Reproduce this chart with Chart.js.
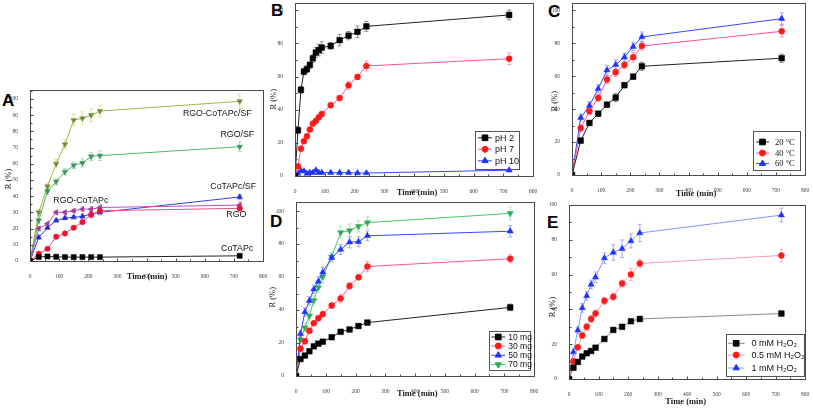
<!DOCTYPE html>
<html><head><meta charset="utf-8">
<script src="https://cdn.jsdelivr.net/npm/chart.js@4.4.1/dist/chart.umd.min.js"></script>
<style>
html,body{margin:0;padding:0;background:#fff;width:813px;height:408px;overflow:hidden;position:relative}
canvas{position:absolute}
.lt{position:absolute;font:bold 17px "Liberation Sans",Arial,sans-serif;line-height:17px;color:#000}
</style></head><body>
<div class="lt" style="left:2px;top:91.6px">A</div>
<div class="lt" style="left:271px;top:1.6px">B</div>
<div class="lt" style="left:548px;top:2.6px">C</div>
<div class="lt" style="left:270px;top:212.6px">D</div>
<div class="lt" style="left:547px;top:213.6px">E</div>
<script>
// ---------- shared ticks ----------
const xTicks = [0, 100, 200, 300, 400, 500, 600, 700, 800];
const yTicksA = [0, 10, 20, 30, 40, 50, 60, 70, 80, 90, 100];
const yTicks20 = [0, 20, 40, 60, 80, 100];

// ---------- Panel A ----------
const timeA = [0, 30, 60, 90, 120, 150, 180, 210, 240, 720];
const aRgoCoSF = [0, 30, 46, 60, 72, 87, 88, 90, 92.5, 98.5];
const aRgoSF   = [0, 25, 43, 49, 55, 59, 60.5, 64.5, 65, 70.5];
const aCoSF    = [0, 14.5, 20.5, 25, 26.5, 27, 27.5, 29, 30, 39.5];
const aRgoCo   = [0, 20, 23, 30, 30, 31, 32, 32, 33, 34.5];
const aRgo     = [0, 4.5, 7.5, 15, 17, 20.5, 24, 28.5, 31, 32.5];
const aCo      = [0, 2.5, 2.8, 2.6, 2.4, 2.4, 2.4, 2.4, 2.4, 3.2];
const errARgoCoSF = [0, 2, 2, 2.5, 3, 3.5, 4, 4, 3.5, 4.5];
const errARgoSF   = [0, 2, 2, 2, 2, 2, 2.5, 2.5, 3, 3];
const errACoSF    = [0, 1, 1, 1, 1, 1, 1.5, 1.5, 1.5, 1.5];
const errARgoCo   = [0, 1, 1, 1, 1, 1, 1.5, 1.5, 2, 2];
const errARgo     = [0, 1, 1, 1, 1, 1, 1.5, 2, 2, 2];
const errACo      = [0, 0.5, 0.5, 0.5, 0.5, 0.5, 0.5, 0.5, 0.5, 0.5];

// ---------- Panel B ----------
const timeB = [0, 10, 20, 30, 40, 50, 60, 70, 80, 90, 120, 150, 180, 210, 240, 720];
const bPH2  = [0, 27.6, 52, 63, 64.5, 67, 71, 74.5, 76, 77.5, 78.5, 82, 84.7, 87, 90.3, 97.2];
const bPH7  = [0, 5.8, 16.5, 21, 24, 28, 31.6, 33.2, 35.4, 37.4, 42.7, 47, 54.7, 59.8, 66.4, 70.8];
const bPH10 = [0, 1.5, 3, 3, 1.5, 2, 2, 3.5, 2, 2, 2, 2, 2, 1.8, 1.8, 3.5];
const errBPH2  = [0, 2, 2, 2, 2, 2, 2.5, 3, 3.5, 3.5, 2, 3.5, 2.5, 3.5, 3, 3];
const errBPH7  = [0, 1, 1, 1, 1, 1, 1, 1, 1, 1, 1.5, 1.5, 2.5, 1.5, 3, 3.5];
const errBPH10 = [0, 0.5, 0.5, 0.5, 0.5, 0.5, 0.5, 0.5, 0.5, 0.5, 0.5, 0.5, 0.5, 0.5, 0.5, 0.5];

// ---------- Panel C ----------
const timeC = [0, 30, 60, 90, 120, 150, 180, 210, 240, 720];
const c20 = [0, 20.9, 31.6, 37.2, 42.7, 47, 54.5, 59.7, 66, 70.9];
const c40 = [0, 28.5, 38.7, 46.8, 57.9, 62.3, 66.8, 71.5, 78.3, 87.2];
const c60 = [0, 34.8, 42.1, 52.4, 63.6, 67, 71.5, 77.9, 83.8, 94.9];
const errC20 = [0, 1.5, 1.5, 1.5, 1.5, 2.5, 1.5, 1.5, 2.5, 2.5];
const errC40 = [0, 2, 2, 2, 2.5, 2.5, 2, 3, 2.5, 3.5];
const errC60 = [0, 2, 2.5, 2.5, 3, 3, 2.5, 2.5, 3, 3.5];

// ---------- Panel D ----------
const timeD = [0, 15, 30, 45, 60, 75, 90, 120, 150, 180, 210, 240, 720];
const d10 = [0, 10.3, 12.4, 15, 18, 19.6, 20.8, 23.5, 26.8, 28.2, 30.3, 32.4, 41.6];
const d30 = [0, 16.5, 21, 27.4, 32, 35, 37.5, 42.7, 47, 54.6, 59.8, 66.4, 71.1];
const d50 = [0, 25.6, 38.8, 45.6, 52.6, 57.3, 62.9, 71.8, 76.7, 81.2, 81.4, 85, 87.8];
const d70 = [0, 22, 29.3, 36.5, 45.8, 53.6, 60.2, 72.2, 87, 88.2, 90.7, 93, 98.6];
const errD10 = [0, 1, 1, 1, 1, 1, 1, 1, 1, 1, 1, 1, 2];
const errD30 = [0, 1.5, 1.5, 1.5, 1.5, 1.5, 1.5, 1.5, 2.5, 2, 1.5, 3, 2.5];
const errD50 = [0, 2, 2.5, 2.5, 2.5, 3, 3, 2.5, 3, 3.5, 3, 3, 3.5];
const errD70 = [0, 2.5, 2.5, 3, 3, 3, 3.5, 3, 3.5, 4, 3.5, 3.5, 4];

// ---------- Panel E ----------
const timeE = [0, 15, 30, 45, 60, 75, 90, 120, 150, 180, 210, 240, 720];
const e0  = [0, 6.5, 9.8, 12.9, 14.8, 16.1, 18, 23, 28.2, 30, 33.2, 34.5, 37.6];
const e05 = [0, 10.2, 18.2, 25, 30, 34.5, 37.6, 44.9, 47.2, 54.9, 60.1, 66.4, 71];
const e1  = [0, 15.5, 28, 40.9, 47.8, 54.3, 58.5, 69.5, 72.7, 74.9, 79.3, 83.9, 94.2];
const errE0  = [0, 0.8, 0.8, 0.8, 0.8, 0.8, 0.8, 1, 1, 1, 1, 1.5, 1.5];
const errE05 = [0, 1.5, 1.5, 1.5, 2, 2, 2, 2, 2, 2, 3.5, 2.5, 3.5];
const errE1  = [0, 2, 2, 2.5, 2.5, 2.5, 3, 3, 4.5, 5, 4, 5, 4];

// ---------- helpers ----------
function ser(label, t, v, err, st) {
  return {
    label, data: t.map((x, i) => ({x, y: v[i]})), errors: err,
    borderColor: st.line, backgroundColor: st.mark, pointBackgroundColor: st.mark,
    pointBorderColor: st.mark, pointStyle: st.shape, pointRotation: st.rot || 0,
    pointRadius: st.r, pointBorderWidth: 0.5, borderWidth: st.lw || 1, errColor: st.err,
    showLine: true, tension: 0, fill: false
  };
}
const BLK = {line:'#222', mark:'#000', err:'#777', shape:'rect', r:4};
const RED = {line:'#ff4f9a', mark:'#ff1a1a', err:'#f08ab0', shape:'circle', r:3};
const BLU = {line:'#3348ff', mark:'#1f33ff', err:'#8894f0', shape:'triangle', r:3.6};
const GRN = {line:'#4cc76a', mark:'#2fae52', err:'#a8e0b0', shape:'triangle', rot:180, r:3.6};

const decor = {
  id: 'decor',
  beforeDatasetsDraw(chart) {
    const ctx = chart.ctx, ys = chart.scales.y;
    chart.data.datasets.forEach((ds, i) => {
      if (!ds.errors) return;
      const meta = chart.getDatasetMeta(i);
      ctx.save(); ctx.strokeStyle = ds.errColor || ds.borderColor; ctx.lineWidth = 0.8;
      meta.data.forEach((pt, j) => {
        const e = ds.errors[j]; if (!e) return;
        const v = ds.data[j].y;
        const y1 = ys.getPixelForValue(v + e), y2 = ys.getPixelForValue(v - e);
        ctx.beginPath();
        ctx.moveTo(pt.x, y1); ctx.lineTo(pt.x, y2);
        ctx.moveTo(pt.x - 2, y1); ctx.lineTo(pt.x + 2, y1);
        ctx.moveTo(pt.x - 2, y2); ctx.lineTo(pt.x + 2, y2);
        ctx.stroke();
      });
      ctx.restore();
    });
  },
  afterDraw(chart, args, o) {
    const {ctx, chartArea: ca, scales: {x, y}} = chart;
    const ox = o.ox, oy = o.oy;
    ctx.save();
    // frame
    ctx.strokeStyle = '#4a4a4a'; ctx.lineWidth = 1;
    const L = Math.round(ca.left) + 0.5, T = Math.round(ca.top) + 0.5;
    const R = Math.round(ca.right) + 0.5, B = Math.round(ca.bottom) + 0.5;
    ctx.strokeRect(L, T, R - L, B - T);
    // inward ticks
    ctx.beginPath();
    for (let v = 0; v <= 800; v += 50) {
      const px = Math.round(x.getPixelForValue(v)) + 0.5;
      const len = v % 100 === 0 ? 3 : 2;
      ctx.moveTo(px, B); ctx.lineTo(px, B - len);
    }
    const yt = o.yTicks, st = yt[1] - yt[0];
    for (let v = 0; v <= y.max + 0.001; v += st / 2) {
      const py = Math.round(y.getPixelForValue(v)) + 0.5;
      const len = Math.abs(v / st - Math.round(v / st)) < 1e-6 ? 3 : 2;
      ctx.moveTo(L, py); ctx.lineTo(L + len, py);
    }
    ctx.stroke();
    // axis titles
    ctx.fillStyle = '#222'; ctx.textAlign = 'center'; ctx.textBaseline = 'middle';
    ctx.font = 'bold 8.5px "Liberation Serif", serif';
    ctx.fillText('Time (min)', o.xt[0] - ox, o.xt[1] - oy);
    ctx.save(); ctx.translate(o.yt[0] - ox, o.yt[1] - oy); ctx.rotate(-Math.PI / 2);
    ctx.font = '8.5px "Liberation Serif", serif'; ctx.fillText('R (%)', 0, 0); ctx.restore();
    // legend
    if (o.legend) {
      const lg = o.legend;
      ctx.strokeStyle = '#555'; ctx.lineWidth = 1;
      ctx.strokeRect(Math.round(lg.box[0] - ox) + 0.5, Math.round(lg.box[1] - oy) + 0.5,
                     Math.round(lg.box[2] - lg.box[0]), Math.round(lg.box[3] - lg.box[1]));
      ctx.font = lg.font; ctx.textAlign = 'left'; ctx.textBaseline = 'middle';
      chart.data.datasets.forEach((ds, i) => {
        const ry = lg.rows[i] - oy;
        ctx.strokeStyle = ds.borderColor; ctx.lineWidth = 1;
        ctx.beginPath(); ctx.moveTo(lg.line[0] - ox, ry); ctx.lineTo(lg.line[1] - ox, ry); ctx.stroke();
        ctx.fillStyle = ds.pointBackgroundColor; ctx.strokeStyle = ds.pointBorderColor;
        Chart.helpers.drawPoint(ctx, {pointStyle: ds.pointStyle, rotation: ds.pointRotation,
          radius: ds.pointRadius, borderWidth: 0.5}, (lg.line[0] + lg.line[1]) / 2 - ox, ry);
        ctx.fillStyle = '#111';
        ctx.fillText(ds.label, lg.text - ox, ry + 0.5);
      });
    }
    // annotations
    if (o.notes) {
      ctx.fillStyle = '#111'; ctx.textAlign = 'left'; ctx.textBaseline = 'middle';
      ctx.font = '8.8px "Liberation Sans", Arial, sans-serif';
      o.notes.forEach(n => ctx.fillText(n.text, x.getPixelForValue(n.x), y.getPixelForValue(n.y)));
    }
    ctx.restore();
  }
};

function makePanel(p) {
  const [L, T, R, B] = p.area;
  const padL = 45, padR = 10, padT = 10, padB = 30;
  const cv = document.createElement('canvas');
  const cx = L - padL, cy = T - padT;
  const w = Math.round(R - L + padL + padR), h = Math.round(B - T + padT + padB);
  cv.width = w; cv.height = h;
  cv.style.left = cx + 'px'; cv.style.top = cy + 'px';
  cv.style.width = w + 'px'; cv.style.height = h + 'px';
  document.body.appendChild(cv);
  const tickFont = {family: '"Liberation Serif", serif', size: 5.5};
  new Chart(cv, {
    type: 'line',
    data: {datasets: p.datasets},
    options: {
      responsive: false, animation: false, devicePixelRatio: 1,
      layout: {padding: {left: 0, top: padT, right: padR, bottom: 0}},
      plugins: {legend: {display: false}, tooltip: {enabled: false},
        decor: {ox: cx, oy: cy, xt: p.xt, yt: p.yt, legend: p.legend, notes: p.notes, yTicks: p.yTicks}},
      scales: {
        x: {type: 'linear', min: 0, max: 800,
          afterBuildTicks: s => { s.ticks = xTicks.map(v => ({value: v})); },
          ticks: {font: tickFont, color: '#444', padding: 4, maxRotation: 0, autoSkip: false},
          grid: {display: false}, border: {display: false},
          afterFit: s => { s.height = padB; s.paddingLeft = 0; s.paddingRight = 0; }},
        y: {type: 'linear', min: 0, max: p.ymax,
          afterBuildTicks: s => { s.ticks = p.yTicks.map(v => ({value: v})); },
          ticks: {font: tickFont, color: '#444', padding: 4, autoSkip: false},
          grid: {display: false}, border: {display: false},
          afterFit: s => { s.width = padL; s.paddingTop = 0; s.paddingBottom = 0; }}
      }
    },
    plugins: [decor]
  });
}

makePanel({
  area: [30, 90, 263, 261], ymax: 105.5, yTicks: yTicksA, xt: [147, 277], yt: [9, 179],
  notes: [
    {text: 'RGO-CoTAPc/SF', x: 525, y: 90.7},
    {text: 'RGO/SF', x: 654, y: 78},
    {text: 'CoTAPc/SF', x: 619, y: 45.7},
    {text: 'RGO-CoTAPc', x: 80, y: 37},
    {text: 'RGO', x: 674, y: 28.8},
    {text: 'CoTAPc', x: 656, y: 7.8}
  ],
  datasets: [
    ser('CoTAPc', timeA, aCo, errACo, {line:'#222', mark:'#000', err:'#777', shape:'rect', r:3.6}),
    ser('RGO', timeA, aRgo, errARgo, {line:'#e8507a', mark:'#ee1133', err:'#f0a0b8', shape:'circle', r:2.7}),
    ser('RGO-CoTAPc', timeA, aRgoCo, errARgoCo, {line:'#c24cb4', mark:'#a03c9c', err:'#dc9ad4', shape:'triangle', rot:-90, r:3.2}),
    ser('CoTAPc/SF', timeA, aCoSF, errACoSF, {line:'#3344dd', mark:'#1f2fd0', err:'#8890e8', shape:'triangle', r:3.2}),
    ser('RGO/SF', timeA, aRgoSF, errARgoSF, {line:'#52b46c', mark:'#3c945a', err:'#9cd6a8', shape:'triangle', rot:180, r:3.2}),
    ser('RGO-CoTAPc/SF', timeA, aRgoCoSF, errARgoCoSF, {line:'#9cb84a', mark:'#6f8f36', err:'#e2da66', shape:'triangle', rot:180, r:3.2})
  ]
});

makePanel({
  area: [295, 2.7, 532.7, 175.5], ymax: 104.4, yTicks: yTicks20, xt: [417, 192], yt: [274, 99],
  legend: {box: [475, 131, 519, 169], rows: [137.5, 149, 160.5], line: [478, 492], text: 495,
           font: '9px "Liberation Sans", Arial, sans-serif'},
  datasets: [
    ser('pH 2', timeB, bPH2, errBPH2, BLK),
    ser('pH 7', timeB, bPH7, errBPH7, RED),
    ser('pH 10', timeB, bPH10, errBPH10, BLU)
  ]
});

makePanel({
  area: [572, 2.7, 805, 175], ymax: 104.4, yTicks: yTicks20, xt: [696, 193], yt: [555, 101],
  legend: {box: [753, 131, 800, 170], rows: [141.7, 152.7, 163.3], line: [756, 769], text: 775,
           font: '8.5px "Liberation Serif", serif'},
  datasets: [
    ser('20 °C', timeC, c20, errC20, BLK),
    ser('40 °C', timeC, c40, errC40, RED),
    ser('60 °C', timeC, c60, errC60, BLU)
  ]
});

makePanel({
  area: [295.7, 201.7, 533.3, 375.5], ymax: 105.5, yTicks: yTicks20, xt: [417, 393], yt: [272, 297],
  legend: {box: [489, 331, 530, 370], rows: [336.7, 345.7, 355, 364.3], line: [491, 505], text: 508,
           font: '8.5px "Liberation Sans", Arial, sans-serif'},
  datasets: [
    ser('10 mg', timeD, d10, errD10, BLK),
    ser('30 mg', timeD, d30, errD30, RED),
    ser('50 mg', timeD, d50, errD50, BLU),
    ser('70 mg', timeD, d70, errD70, GRN)
  ]
});

makePanel({
  area: [569.3, 205, 805, 378.7], ymax: 100, yTicks: yTicks20, xt: [686, 401.5], yt: [553, 307],
  legend: {box: [726, 334.3, 804, 376], rows: [343.3, 355, 368], line: [728, 745], text: 751.7,
           font: '9px "Liberation Sans", Arial, sans-serif'},
  datasets: [
    ser('0 mM H₂O₂', timeE, e0, errE0, {line:'#8a8a8a', mark:'#000', err:'#999', shape:'rect', r:4}),
    ser('0.5 mM H₂O₂', timeE, e05, errE05, {line:'#f29ab8', mark:'#ff1a1a', err:'#f2a0b8', shape:'circle', r:3}),
    ser('1 mM H₂O₂', timeE, e1, errE1, {line:'#8a94ff', mark:'#1f33ff', err:'#8f98ee', shape:'triangle', r:3.6})
  ]
});
</script>
</body></html>
